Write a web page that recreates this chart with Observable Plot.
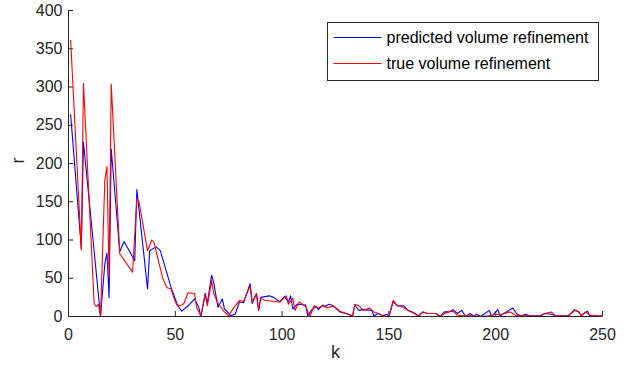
<!DOCTYPE html>
<html><head><meta charset="utf-8">
<script src="https://cdn.jsdelivr.net/npm/d3@7"></script>
<script src="https://cdn.jsdelivr.net/npm/@observablehq/plot@0.6"></script>
<style>body{margin:0;background:#fff;} #chart{position:relative;width:635px;height:370px;}</style>
</head><body><div id="chart"></div>
<script>
// predicted volume refinement (blue)
const predK = [1,6,7,15,17,18,19,20,24,26,31,32,37,38,41,43,48,51,53,56,59,61,62,64,65,67,68,70,72,73,76,78,80,82,85,86,88,89,90,94,96,99,101,103,104,105,107,111,112,114,116,117,119,120,122,124,127,130,133,134,136,138,142,143,145,147,149,150,152,154,157,159,161,164,166,168,172,174,176,178,180,182,184,186,188,190,191,193,197,198,200,201,202,205,208,210,212,214,216,221,223,226,228,234,237,239,240,243,244,247,249,250];
const predR = [264,89,228,0,69,83,25,219,85,98,73,166,36,86,91,86,38,15,7,14,23,12,0,30,17,54,44,12,23,10,1,3,19,18,43,17,30,8,25,27,25,19,26,19,27,10,16,15,1,9,13,9,15,13,16,14,6,4,1,15,8,9,8,1,4,1,3,0,19,14,14,8,6,1,6,4,4,0,6,6,9,4,8,0,4,0,3,0,8,0,6,9,1,6,11,3,1,3,1,1,4,3,1,1,9,6,1,7,1,1,0,1];
// true volume refinement (red)
const trueK = [1,6,7,12,13,14,15,17,18,19,20,24,30,32,33,37,39,40,44,46,48,50,51,53,54,56,59,60,62,64,65,67,68,70,73,75,77,80,82,85,86,88,89,90,92,96,99,102,103,105,106,108,111,113,115,117,119,121,124,127,130,133,134,136,138,141,143,145,147,150,152,154,156,159,162,164,166,168,172,174,176,178,180,182,184,186,188,193,197,199,200,202,204,207,209,211,216,220,223,226,228,234,237,239,240,242,244,247,250];
const trueR = [361,87,305,17,13,16,0,178,196,51,304,82,58,154,150,86,100,97,51,38,36,19,14,15,17,31,30,12,0,30,14,47,30,17,6,1,10,21,20,40,19,30,8,24,21,20,19,27,16,24,8,19,13,0,14,11,14,11,14,7,4,0,16,14,8,11,6,4,1,0,21,14,13,8,4,0,6,4,4,0,4,6,7,2,1,1,1,0,1,2,3,2,4,6,2,1,1,0,4,6,1,1,8,6,1,6,2,1,1];

const xTicks = [0,50,100,150,200,250];
const yTicks = [0,50,100,150,200,250,300,350,400];
const seriesNames = ["predicted volume refinement","true volume refinement"];
const seriesColors = ["#0000ff","#ff0000"];
const xLabel = "k", yLabel = "r";

const pred = predK.map((k,i)=>({k, r: predR[i]}));
const truth = trueK.map((k,i)=>({k, r: trueR[i]}));

const W=635, H=370, mt=10, mb=54, ml=68, mr=33;
const axisColor = "#262626";
const font = "'Liberation Sans', Arial, Helvetica, sans-serif";

const svg = Plot.plot({
  width: W, height: H, marginTop: mt, marginBottom: mb, marginLeft: ml, marginRight: mr,
  style: {fontFamily: font, fontSize: "16px", color: axisColor, background: "#fff", overflow: "visible"},
  x: {domain: [0,250]},
  y: {domain: [0,400]},
  marks: [
    Plot.axisX(xTicks, {tickSize: 0, tickPadding: 12, label: null, fontSize: 16}),
    Plot.axisY(yTicks, {tickSize: 0, tickPadding: 6, label: null, fontSize: 16}),
    Plot.tickX(xTicks, {x: d=>d, insetTop: H-mt-mb-5, stroke: axisColor}),
    Plot.tickY(yTicks, {y: d=>d, insetRight: W-ml-mr-5, stroke: axisColor}),
    Plot.line(pred, {x: "k", y: "r", stroke: seriesColors[0], strokeWidth: 1.1}),
    Plot.line(truth, {x: "k", y: "r", stroke: seriesColors[1], strokeWidth: 1.1}),
    Plot.ruleY([0], {stroke: axisColor}),
    Plot.ruleX([0], {stroke: axisColor}),
    Plot.text([xLabel], {text: d=>d, frameAnchor: "bottom", dy: 41, fontSize: 18, fill: axisColor}),
    Plot.text([yLabel], {text: d=>d, frameAnchor: "left", dx: -50, rotate: -90, fontSize: 18, fill: axisColor})
  ]
});

// legend box (inside the axes, top right)
const lg = d3.select(svg).append("g").attr("font-family", font).attr("font-size", 16)
  .attr("text-anchor", "start");
const bx = 327.5, by = 22.5, bw = 271, bh = 58;
lg.append("rect").attr("x", bx).attr("y", by).attr("width", bw).attr("height", bh)
  .attr("fill", "#fff").attr("stroke", axisColor).attr("stroke-width", 1);
seriesNames.forEach((name, i) => {
  const yy = by + 15 + i*26;
  lg.append("line").attr("x1", bx+6).attr("x2", bx+54).attr("y1", yy).attr("y2", yy)
    .attr("stroke", seriesColors[i]).attr("stroke-width", 1.1);
  lg.append("text").attr("x", bx+59).attr("y", yy).attr("dy", "0.35em")
    .attr("text-anchor", "start").attr("fill", "#000").text(name);
});

document.getElementById("chart").appendChild(svg);
</script>
</body></html>
